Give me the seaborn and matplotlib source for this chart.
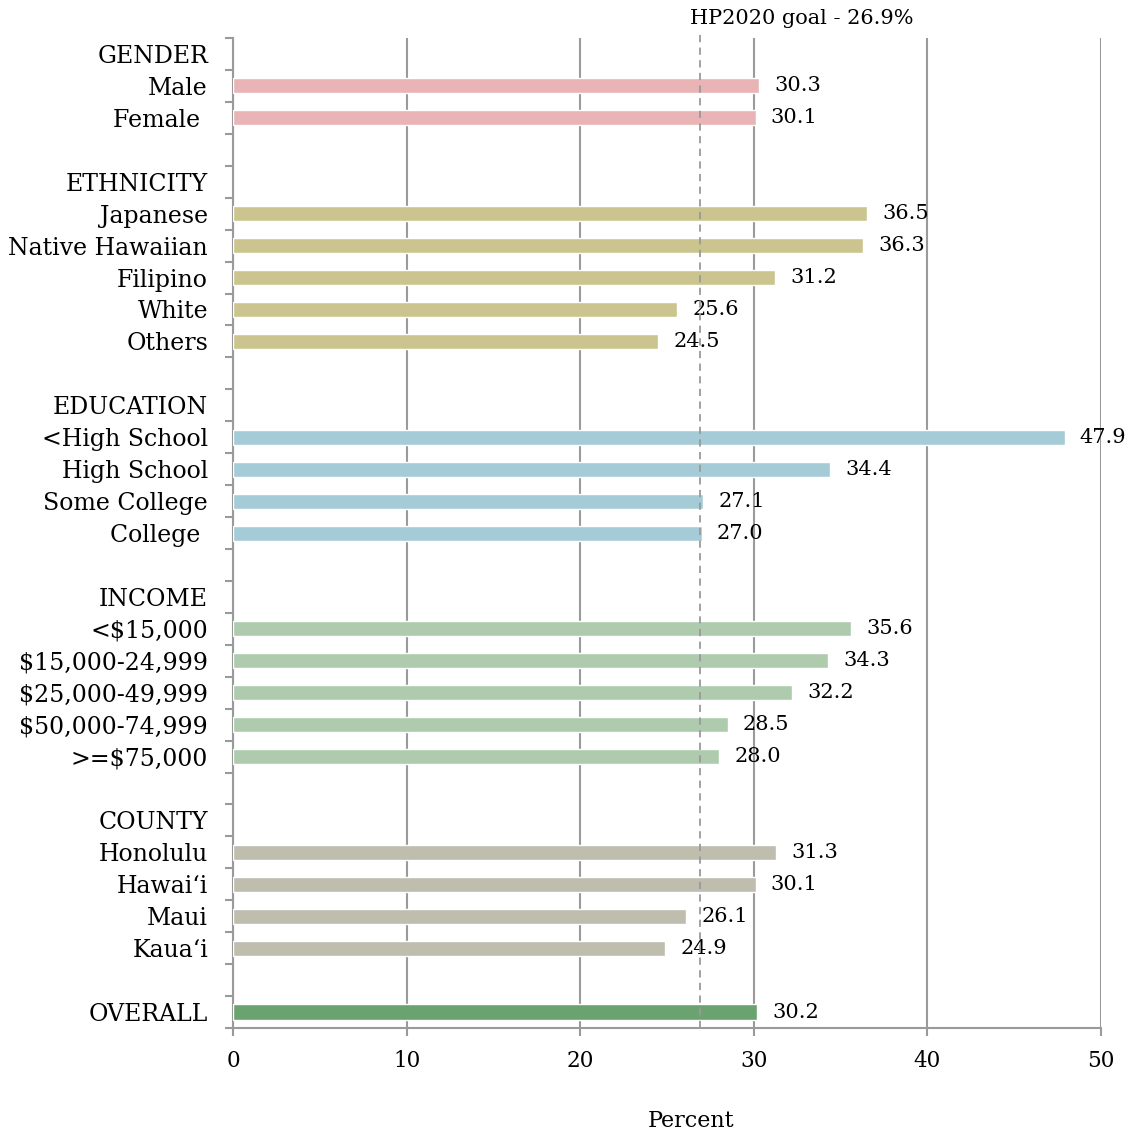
import matplotlib
matplotlib.use("Agg")
import matplotlib.pyplot as plt
import seaborn as sns
import pandas as pd

# Row layout: section headers and spacer rows carry no bar
rows = ["GENDER", "Male", "Female ", " ",
        "ETHNICITY", "Japanese", "Native Hawaiian", "Filipino", "White", "Others", "  ",
        "EDUCATION", "<High School", "High School", "Some College", "College ", "   ",
        "INCOME", "<$15,000", "$15,000-24,999", "$25,000-49,999", "$50,000-74,999", ">=$75,000", "    ",
        "COUNTY", "Honolulu", "Hawai\u2018i", "Maui", "Kaua\u2018i", "     ",
        "OVERALL"]

gender_labels = ["Male", "Female "]
gender_values = [30.3, 30.1]
ethnicity_labels = ["Japanese", "Native Hawaiian", "Filipino", "White", "Others"]
ethnicity_values = [36.5, 36.3, 31.2, 25.6, 24.5]
education_labels = ["<High School", "High School", "Some College", "College "]
education_values = [47.9, 34.4, 27.1, 27.0]
income_labels = ["<$15,000", "$15,000-24,999", "$25,000-49,999", "$50,000-74,999", ">=$75,000"]
income_values = [35.6, 34.3, 32.2, 28.5, 28.0]
county_labels = ["Honolulu", "Hawai\u2018i", "Maui", "Kaua\u2018i"]
county_values = [31.3, 30.1, 26.1, 24.9]
overall_labels = ["OVERALL"]
overall_values = [30.2]

goal_value = 26.9

groups = [("Gender", gender_labels, gender_values),
          ("Ethnicity", ethnicity_labels, ethnicity_values),
          ("Education", education_labels, education_values),
          ("Income", income_labels, income_values),
          ("County", county_labels, county_values),
          ("Overall", overall_labels, overall_values)]

records = []
for g, labs, vals in groups:
    for l, v in zip(labs, vals):
        records.append({"label": l, "value": v, "group": g})
df = pd.DataFrame(records)

palette = {"Gender": "#E8B4B5", "Ethnicity": "#CCC48F", "Education": "#A5CCD6",
           "Income": "#AFCBAE", "County": "#BFBDAD", "Overall": "#6AA36F"}

sns.set_style("white")
plt.rcParams["font.family"] = ["DejaVu Serif"]
plt.rcParams["text.color"] = "black"
plt.rcParams["xtick.color"] = "black"
plt.rcParams["ytick.color"] = "black"
plt.rcParams["axes.labelcolor"] = "black"

fig = plt.figure(figsize=(11.29, 11.36), dpi=100)
ax = fig.add_axes([0.2064, 0.0951, 0.7688, 0.8714])

sns.barplot(data=df, x="value", y="label", hue="group", order=rows,
            palette=palette, dodge=False, width=0.47, legend=False,
            saturation=1, ax=ax, zorder=3)

gray = "#9A9A9A"
ax.set_xlim(0, 50)
ax.set_ylim(len(rows) - 0.5, -0.5)
ax.set_xticks(range(0, 51, 10))
ax.tick_params(axis="x", bottom=True, labelsize=15.5, length=6, width=1.5,
               color=gray, labelcolor="black", pad=10)
ax.grid(axis="x", color=gray, linewidth=1.5, zorder=0)
ax.set_axisbelow(True)

# Category labels at row centres, tick marks at row boundaries
ax.set_yticks(range(len(rows)))
ax.set_yticklabels(rows)
ax.tick_params(axis="y", which="major", left=False, length=0, labelsize=17,
               labelcolor="black", pad=18)
ax.set_yticks([i - 0.5 for i in range(len(rows) + 1)], minor=True)
ax.tick_params(axis="y", which="minor", left=True, length=6, width=1.5,
               color=gray, direction="out")

for s in ["top", "right"]:
    ax.spines[s].set_visible(False)
for s in ["left", "bottom"]:
    ax.spines[s].set_color(gray)
    ax.spines[s].set_linewidth(1.5)

for c in ax.containers:
    ax.bar_label(c, fmt="%.1f", padding=11, fontsize=15, color="black", zorder=4)

ax.axvline(goal_value, ymin=0, ymax=1.004, color=gray, linestyle=(0, (4, 3)),
           linewidth=1.3, clip_on=False, zorder=5)
ax.text(goal_value - 0.6, 1.02, "HP2020 goal - 26.9%", transform=ax.get_xaxis_transform(),
        ha="left", va="center", fontsize=15, color="black")

ax.set_ylabel("")
ax.set_xlabel("Percent", fontsize=16, color="black")
ax.xaxis.set_label_coords(0.5276, -0.083)

fig.savefig("out.png", dpi=100)
